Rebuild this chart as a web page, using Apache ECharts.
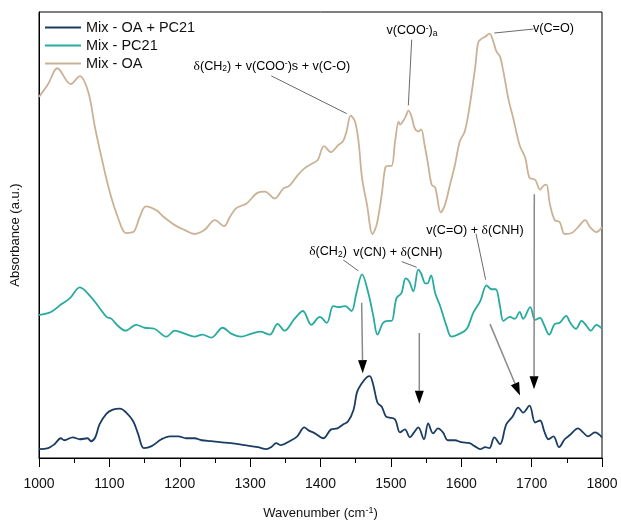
<!DOCTYPE html>
<html>
<head>
<meta charset="utf-8">
<script src="https://cdn.jsdelivr.net/npm/echarts@6/dist/echarts.min.js"></script>
<style>
html,body{margin:0;padding:0;background:#fff;}
#c{width:621px;height:526px;}
</style>
</head>
<body>
<div id="c"></div>
<script>
// ---- data (wavenumber, cm^-1 ; absorbance, arbitrary units, offset spectra) ----
const seriesNames = ['Mix - OA + PC21', 'Mix - PC21', 'Mix - OA'];

const mixWn = [1000,1013,1022,1031,1036,1048,1058,1069,1074,1080,1086,1096,1105,1115,1124,1134,1141,1149,1160,1174,1186,1198,1209,1221,1231,1245,1257,1273,1292,1311,1323,1330,1337,1344,1356,1367,1377,1383,1392,1404,1415,1424,1432,1439,1447,1452,1459,1466,1470,1475,1481,1487,1493,1498,1506,1513,1520,1527,1533,1539,1547,1553,1560,1567,1574,1581,1591,1600,1612,1619,1627,1634,1640,1647,1655,1664,1673,1681,1688,1697,1705,1712,1718,1724,1731,1739,1747,1754,1766,1773,1780,1790,1800];
const mixAbs = [9,10,14,20,18,21,19,20,17,21,34,45,49,50,46,37,24,10,12,19,22,22,20,20,18,17,16,15,13,11,9,11,15,13,17,22,31,28,25,20,29,30,34,37,49,67,76,82,83,74,56,52,42,41,39,26,29,21,26,31,19,35,25,30,26,18,18,16,15,12,9,11,10,21,14,34,42,51,46,53,36,38,27,19,22,11,19,23,30,26,22,26,21];

const pcWn = [1000,1017,1032,1044,1058,1074,1086,1096,1103,1112,1123,1138,1150,1164,1181,1193,1207,1221,1232,1245,1261,1273,1287,1302,1315,1328,1339,1349,1363,1375,1387,1399,1409,1418,1425,1435,1444,1451,1459,1468,1475,1481,1489,1496,1501,1508,1515,1521,1526,1532,1539,1543,1549,1552,1557,1563,1570,1579,1586,1598,1608,1617,1627,1636,1643,1649,1655,1660,1669,1676,1683,1688,1698,1705,1712,1717,1725,1733,1740,1749,1755,1763,1771,1778,1784,1792,1800];
const pcAbs = [145,148,156,162,173,163,152,143,141,134,129,135,132,131,123,129,126,123,125,122,132,126,123,126,128,125,136,129,141,149,135,143,137,154,153,154,149,167,186,167,144,125,137,139,139,162,167,182,179,169,191,187,177,177,185,167,154,134,123,126,131,147,159,175,171,171,154,139,143,141,148,141,153,140,142,136,125,136,137,144,137,131,139,134,129,135,131];

const oaWn = [1000,1013,1026,1045,1058,1070,1079,1089,1100,1112,1124,1134,1143,1152,1167,1176,1193,1207,1221,1235,1250,1263,1271,1280,1295,1311,1321,1335,1347,1356,1368,1378,1387,1396,1405,1415,1425,1432,1437,1443,1449,1454,1459,1466,1474,1480,1487,1492,1496,1501,1506,1511,1513,1517,1521,1525,1529,1534,1539,1543,1548,1553,1558,1563,1571,1577,1584,1591,1598,1605,1612,1620,1624,1629,1634,1640,1646,1650,1655,1660,1667,1674,1683,1691,1697,1705,1712,1717,1721,1726,1733,1740,1747,1757,1766,1776,1783,1792,1800];
const oaAbs = [366,379,395,379,387,371,337,304,271,244,228,229,244,255,251,245,236,231,227,231,241,235,244,253,258,269,270,263,273,276,287,294,298,302,316,310,317,321,331,347,341,321,284,257,227,237,267,294,296,296,321,341,338,341,346,352,347,334,331,333,317,297,277,274,249,257,277,297,321,331,357,397,421,425,427,430,421,412,407,391,364,344,317,304,284,282,272,276,277,257,241,239,227,228,234,241,234,229,234];

const xTicks = {min: 1000, max: 1800, step: 100};

// ---- annotations (in data units) ----
const labels = [
  {text: '{d|δ}{a|(CH}{s|2}{a|) + v(COO}{p|-}{a|)s + v(C-O)}', at: [1331, 397], align: 'center'},
  {text: '{a|v(COO}{p|-}{a|)}{s|a}', at: [1530, 433], align: 'center'},
  {text: '{a|v(C=O)}', at: [1702, 435], align: 'left'},
  {text: '{d|δ}{a|(CH}{s|2}{a|)}', at: [1410.7, 209], align: 'center'},
  {text: '{a|v(CN) + }{d|δ}{a|(CNH)}', at: [1510, 208], align: 'center'},
  {text: '{a|v(C=O) + }{d|δ}{a|(CNH)}', at: [1619.5, 231], align: 'center'}
];
const leaders = [
  [[1330, 387.3], [1437.2, 349]],
  [[1529.6, 424], [1524.8, 357.3]],
  [[1647, 430.7], [1702.4, 434.7]],
  [[1432.4, 200.7], [1453.7, 189.7]],
  [[1515.4, 199], [1536.7, 193.3]],
  [[1621, 227.3], [1634.7, 180.7]]
];
const arrows = [
  [[1458.5, 157.3], [1460, 86]],
  [[1540.4, 126.7], [1540.4, 55]],
  [[1640.9, 135.7], [1683.5, 63.3]],
  [[1703.8, 267.3], [1703.4, 69.7]]
];

const colors = ['#1c3d63', '#27ab9e', '#cbb295'];
const FONT = '"Liberation Sans", Arial, sans-serif';
const SERIF = '"Liberation Serif", "Times New Roman", serif';

function zip(a, b) { return a.map((v, i) => [v, b[i]]); }

const chart = echarts.init(document.getElementById('c'), null, {renderer: 'canvas'});

const rich = {
  a: {fontSize: 12.6, fontFamily: FONT, color: '#111', lineHeight: 14},
  d: {fontSize: 13.5, fontFamily: SERIF, color: '#111', lineHeight: 14},
  s: {fontSize: 8.5, fontFamily: FONT, color: '#111', lineHeight: 14, verticalAlign: 'bottom', padding: [6, 0, 0, 0]},
  p: {fontSize: 8.5, fontFamily: FONT, color: '#111', lineHeight: 14, verticalAlign: 'top', padding: [0, 0, 6, 0]}
};

chart.setOption({
  animation: false,
  color: colors,
  grid: {left: 39, right: 19, top: 12, bottom: 62, show: true, borderColor: '#000', borderWidth: 1, containLabel: false},
  legend: {
    orient: 'vertical', left: 40, top: 15,
    data: seriesNames,
    icon: 'rect', itemWidth: 36, itemHeight: 2, itemGap: 3,
    textStyle: {fontSize: 14.5, fontFamily: FONT, color: '#111', padding: [0, 0, 0, 0]}
  },
  xAxis: {
    type: 'value', min: xTicks.min, max: xTicks.max, interval: xTicks.step,
    name: '{a|Wavenumber (cm}{p|-1}{a|)}',
    nameLocation: 'middle', nameGap: 48,
    nameTextStyle: {rich: {
      a: {fontSize: 13, fontFamily: FONT, color: '#111', lineHeight: 15},
      p: {fontSize: 9, fontFamily: FONT, color: '#111', lineHeight: 15, verticalAlign: 'top', padding: [0, 0, 6, 0]}
    }},
    axisLine: {show: true, lineStyle: {color: '#000', width: 1}},
    axisTick: {show: true, inside: false, length: 9, lineStyle: {color: '#000'}},
    minorTick: {show: true, splitNumber: 2, length: 5, lineStyle: {color: '#000'}},
    axisLabel: {fontSize: 14, fontFamily: FONT, color: '#111', margin: 19, formatter: v => String(v)},
    splitLine: {show: false}
  },
  yAxis: {
    type: 'value', min: 0, max: 452,
    name: 'Absorbance (a.u.)', nameLocation: 'middle', nameGap: 17,
    nameTextStyle: {fontSize: 13, fontFamily: FONT, color: '#111'},
    axisLine: {show: true, lineStyle: {color: '#000'}},
    axisTick: {show: false}, axisLabel: {show: false}, splitLine: {show: false}
  },
  series: [
    {name: seriesNames[0], type: 'line', data: zip(mixWn, mixAbs), showSymbol: false, smooth: 0.35, lineStyle: {width: 1.8, color: colors[0]}, itemStyle: {color: colors[0]}},
    {name: seriesNames[1], type: 'line', data: zip(pcWn, pcAbs), showSymbol: false, smooth: 0.35, lineStyle: {width: 1.8, color: colors[1]}, itemStyle: {color: colors[1]}},
    {name: seriesNames[2], type: 'line', data: zip(oaWn, oaAbs), showSymbol: false, smooth: 0.35, lineStyle: {width: 1.8, color: colors[2]}, itemStyle: {color: colors[2]}}
  ]
});

function px(p) { return chart.convertToPixel({gridIndex: 0}, p); }

const g = [];
leaders.forEach(l => {
  const a = px(l[0]), b = px(l[1]);
  g.push({type: 'line', shape: {x1: a[0], y1: a[1], x2: b[0], y2: b[1]}, style: {stroke: '#444', lineWidth: 0.8}, z: 50});
});
arrows.forEach(l => {
  const a = px(l[0]), b = px(l[1]);
  const dx = b[0] - a[0], dy = b[1] - a[1];
  const len = Math.hypot(dx, dy), ux = dx / len, uy = dy / len;
  const hl = 13, hw = 4.5;
  const bx = b[0] - ux * hl, by = b[1] - uy * hl;
  g.push({type: 'line', shape: {x1: a[0], y1: a[1], x2: bx, y2: by}, style: {stroke: '#8a8a8a', lineWidth: 1.5}, z: 50});
  g.push({type: 'polygon', shape: {points: [[b[0], b[1]], [bx - uy * hw, by + ux * hw], [bx + uy * hw, by - ux * hw]]}, style: {fill: '#000'}, z: 51});
});
labels.forEach(t => {
  const p = px(t.at);
  g.push({type: 'text', x: p[0], y: p[1], z: 52, style: {text: t.text, rich: rich, align: t.align, verticalAlign: 'middle'}});
});
chart.setOption({graphic: g});
</script>
</body>
</html>
